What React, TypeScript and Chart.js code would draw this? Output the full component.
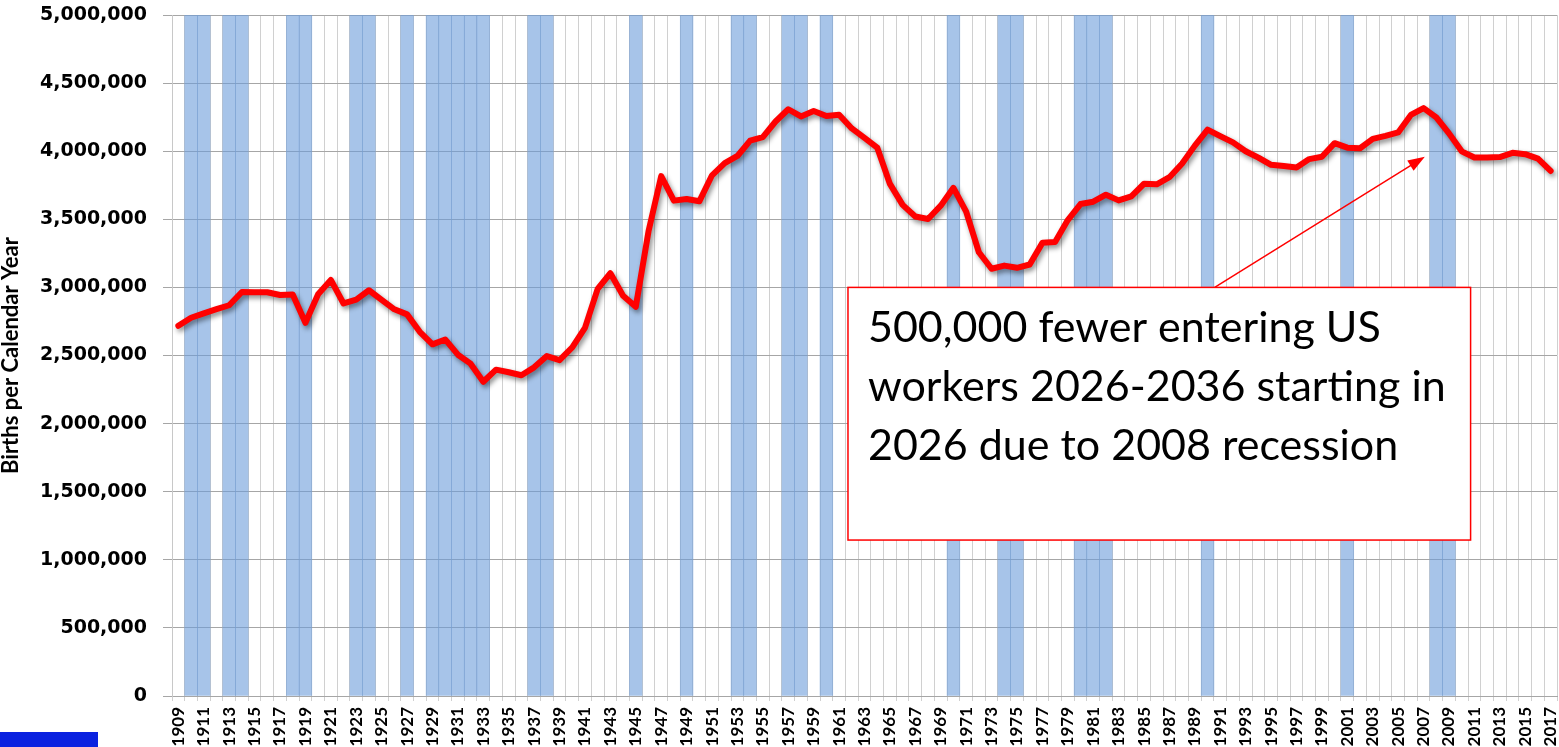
import React, { useEffect, useRef } from 'react';
import { Chart, registerables } from 'chart.js';

Chart.register(...registerables);

// ---------- DATA ----------
const years: string[] = Array.from({ length: 109 }, (_, i) => String(1909 + i));

const births: number[] = [
  2718000,
  2777000, 2809000, 2840000, 2869000, 2966000, 2965000, 2964000, 2944000, 2948000, 2740000,
  2950000, 3055000, 2882000, 2910000, 2979000, 2909000, 2839000, 2802000, 2674000, 2582000,
  2618000, 2506000, 2440000, 2307000, 2396000, 2377000, 2355000, 2413000, 2496000, 2466000,
  2559000, 2703000, 2989000, 3104000, 2939000, 2858000, 3411000, 3817000, 3637000, 3649000,
  3632000, 3823000, 3913000, 3965000, 4078000, 4104000, 4218000, 4308000, 4255000, 4295000,
  4258000, 4268000, 4167000, 4098000, 4027000, 3760000, 3606000, 3521000, 3502000, 3600000,
  3731000, 3556000, 3258000, 3137000, 3160000, 3144000, 3168000, 3327000, 3333000, 3494000,
  3612000, 3629000, 3681000, 3639000, 3669000, 3761000, 3757000, 3809000, 3910000, 4041000,
  4158000, 4111000, 4065000, 4000000, 3953000, 3900000, 3891000, 3881000, 3942000, 3959000,
  4059000, 4026000, 4022000, 4090000, 4112000, 4138000, 4266000, 4316000, 4248000, 4131000,
  3999000, 3954000, 3953000, 3957000, 3988000, 3978000, 3946000, 3855000,
];

const recessionYears: number[] = [
  1910, 1911, 1913, 1914, 1918, 1919, 1923, 1924, 1927,
  1929, 1930, 1931, 1932, 1933, 1937, 1938, 1945, 1949,
  1953, 1954, 1957, 1958, 1960, 1970, 1974, 1975,
  1980, 1981, 1982, 1990, 2001, 2008, 2009,
];

const yMin = 0;
const yMax = 5000000;
const yStep = 500000;

const yTitle = 'Births per Calendar Year';

const noteLines: string[] = [
  '500,000 fewer entering US',
  'workers 2026-2036 starting in',
  '2026 due to 2008 recession',
];
// annotation anchors in data units (x = category index, y = births)
const noteBoxX: number[] = [52.7, 101.7];
const noteBoxY: number[] = [3000000, 1145000];
const arrowFrom: number[] = [81.56, 3000000];
const arrowTo: number[] = [98.1, 3960000];

const recessionData = years.map((y) =>
  recessionYears.includes(Number(y)) ? yMax : null
);

// ---------- PLUGINS ----------
const shadowPlugin = {
  id: 'lineShadow',
  beforeDatasetDraw(chart: any, args: any) {
    if (args.index !== 0) return;
    const ctx = chart.ctx;
    ctx.save();
    ctx.shadowColor = 'rgba(0,0,0,0.45)';
    ctx.shadowBlur = 5;
    ctx.shadowOffsetX = 2;
    ctx.shadowOffsetY = 3;
  },
  afterDatasetDraw(chart: any, args: any) {
    if (args.index !== 0) return;
    chart.ctx.restore();
  },
};

const notePlugin = {
  id: 'note',
  afterDatasetsDraw(chart: any) {
    const { ctx } = chart;
    const xs = chart.scales.x;
    const ys = chart.scales.y;
    const left = xs.getPixelForValue(noteBoxX[0]);
    const right = xs.getPixelForValue(noteBoxX[1]);
    const top = ys.getPixelForValue(noteBoxY[0]);
    const bottom = ys.getPixelForValue(noteBoxY[1]);
    ctx.save();
    // arrow
    const ax = xs.getPixelForValue(arrowFrom[0]);
    const ay = ys.getPixelForValue(arrowFrom[1]);
    const bx = xs.getPixelForValue(arrowTo[0]);
    const by = ys.getPixelForValue(arrowTo[1]);
    const ang = Math.atan2(by - ay, bx - ax);
    const headLen = 17;
    const headHalf = 6;
    ctx.strokeStyle = '#ff0000';
    ctx.fillStyle = '#ff0000';
    ctx.lineWidth = 1.5;
    ctx.beginPath();
    ctx.moveTo(ax, ay);
    ctx.lineTo(bx - Math.cos(ang) * headLen * 0.8, by - Math.sin(ang) * headLen * 0.8);
    ctx.stroke();
    const hx = bx - Math.cos(ang) * headLen;
    const hy = by - Math.sin(ang) * headLen;
    ctx.beginPath();
    ctx.moveTo(bx, by);
    ctx.lineTo(hx + Math.sin(ang) * headHalf, hy - Math.cos(ang) * headHalf);
    ctx.lineTo(hx - Math.sin(ang) * headHalf, hy + Math.cos(ang) * headHalf);
    ctx.closePath();
    ctx.fill();
    // box
    ctx.fillStyle = '#ffffff';
    ctx.fillRect(left, top, right - left, bottom - top);
    ctx.strokeStyle = '#ff0000';
    ctx.lineWidth = 1.5;
    ctx.strokeRect(left, top, right - left, bottom - top);
    // text
    ctx.fillStyle = '#000000';
    ctx.font = '43px Lato';
    ctx.textAlign = 'left';
    ctx.textBaseline = 'alphabetic';
    noteLines.forEach((line, i) => {
      ctx.fillText(line, left + 20, top + 54.5 + i * 59);
    });
    ctx.restore();
  },
};

export default function App() {
  const canvasRef = useRef<HTMLCanvasElement | null>(null);

  useEffect(() => {
    if (!canvasRef.current) return;
    const chart = new Chart(canvasRef.current, {
      type: 'bar',
      data: {
        labels: years,
        datasets: [
          {
            type: 'line',
            label: 'Births',
            data: births,
            borderColor: '#ff0000',
            borderWidth: 6,
            pointRadius: 0,
            tension: 0,
            borderJoinStyle: 'round',
            borderCapStyle: 'round',
            fill: false,
            order: 0,
          } as any,
          {
            type: 'bar',
            label: 'Recession',
            data: recessionData,
            backgroundColor: 'rgba(108,157,218,0.6)',
            borderWidth: 0,
            barPercentage: 1,
            categoryPercentage: 1,
            order: 1,
          } as any,
        ],
      },
      options: {
        animation: false,
        responsive: true,
        maintainAspectRatio: false,
        layout: { padding: { top: 15, right: 2, left: 0, bottom: 0 } },
        plugins: {
          legend: { display: false },
          tooltip: { enabled: false },
        },
        scales: {
          x: {
            type: 'category',
            offset: true,
            grid: {
              offset: true,
              color: '#d0d0d0',
              lineWidth: 1,
              tickLength: 5,
              drawTicks: true,
            },
            border: { color: '#a6a6a6', width: 1 },
            ticks: {
              autoSkip: false,
              minRotation: 90,
              maxRotation: 90,
              padding: 6,
              color: '#000000',
              font: { family: 'Lato', weight: 'bold', size: 17 },
              callback: (_v: any, i: number) => (i % 2 === 0 ? years[i] : ''),
            },
            afterFit: (scale: any) => {
              scale.height = 51;
              scale.paddingLeft = 0;
              scale.paddingRight = 0;
            },
          },
          y: {
            min: yMin,
            max: yMax,
            grid: { color: '#a6a6a6', lineWidth: 1, tickLength: 9 },
            border: { color: '#c8c8c8', width: 1 },
            ticks: {
              stepSize: yStep,
              padding: 16,
              color: '#000000',
              font: { family: 'DejaVu Sans', weight: 'bold', size: 19 },
              callback: (v: any) => Number(v).toLocaleString('en-US'),
            },
            title: {
              display: true,
              text: yTitle,
              color: '#000000',
              font: { family: 'Lato', weight: 'bold', size: 22, lineHeight: 1 },
              padding: { top: 0, bottom: 0 },
            },
            afterFit: (scale: any) => {
              scale.width = 172;
              scale.paddingTop = 0;
              scale.paddingBottom = 0;
            },
          },
        },
      },
      plugins: [shadowPlugin, notePlugin],
    });
    return () => chart.destroy();
  }, []);

  return (
    <div
      style={{
        position: 'fixed',
        left: 0,
        top: 0,
        width: '100vw',
        height: '100vh',
        background: '#ffffff',
      }}
    >
      <canvas ref={canvasRef} />
      <div
        style={{
          position: 'absolute',
          left: 0,
          top: 732,
          width: 98,
          height: 15,
          background: '#0a22e0',
        }}
      />
    </div>
  );
}
